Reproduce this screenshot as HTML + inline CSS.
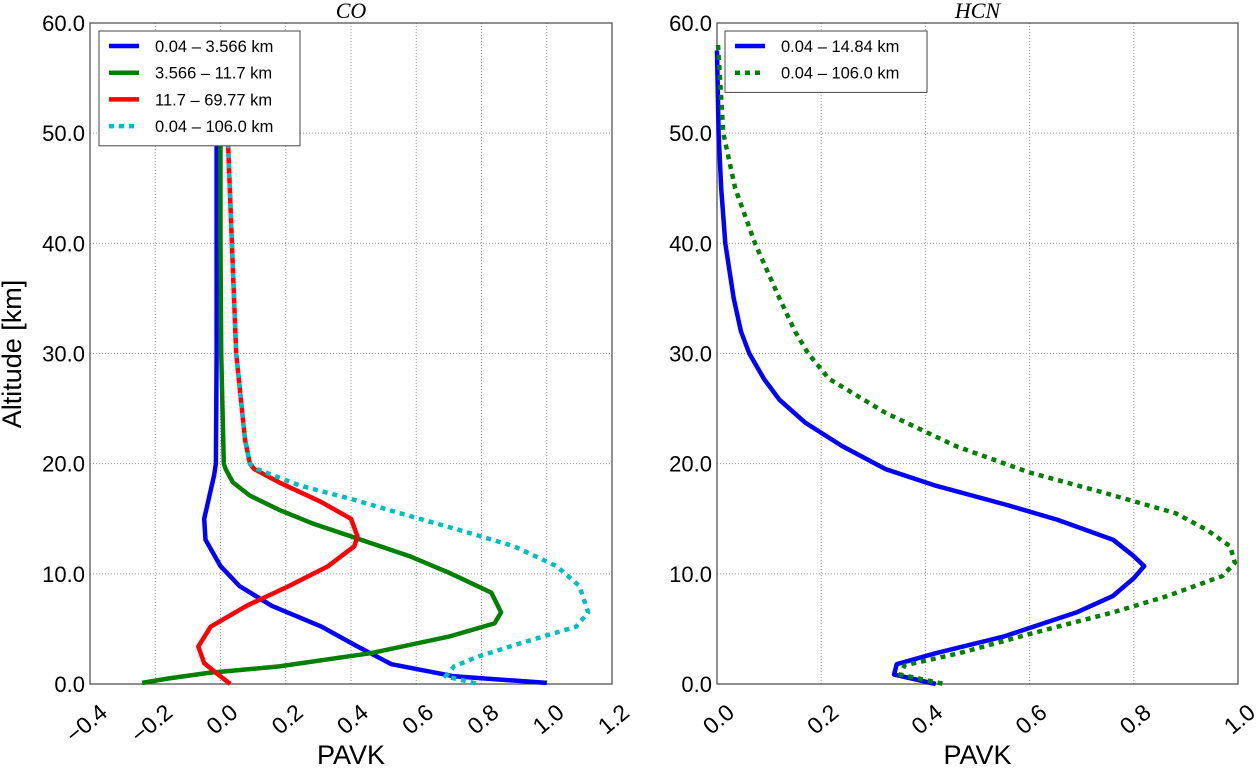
<!DOCTYPE html>
<html><head><meta charset="utf-8"><style>
html,body{margin:0;padding:0;background:#fff;}
svg{display:block;font-family:"Liberation Sans","DejaVu Sans",sans-serif;}
</style></head><body>
<svg id="chart" width="1256" height="768" viewBox="0 0 1256 768" xmlns="http://www.w3.org/2000/svg"></svg>
<script>
// ---- data ----
const altTicks = [0, 10, 20, 30, 40, 50, 60];
const coXTicks = [-0.4, -0.2, 0.0, 0.2, 0.4, 0.6, 0.8, 1.0, 1.2];
const hcnXTicks = [0.0, 0.2, 0.4, 0.6, 0.8, 1.0];
const coBlueAlt = [50,40,30,20,18.9,15,13.1,10.7,8.9,7.1,5.2,3.4,1.8,0.7,0.1];
const coBlueVal = [-0.012,-0.012,-0.012,-0.014,-0.02,-0.05,-0.046,0.0,0.058,0.157,0.31,0.42,0.524,0.716,1.0];
const coGreenAlt = [50,40,30,20,19.5,18.3,17.1,15.8,14.6,13.4,11.6,10.1,8.3,6.5,5.5,4.3,2.8,1.6,1.0,0.5,0.1];
const coGreenVal = [0.0,0.0,0.002,0.01,0.016,0.038,0.09,0.18,0.28,0.40,0.58,0.70,0.83,0.86,0.84,0.70,0.46,0.18,-0.04,-0.16,-0.24];
const coRedAlt = [50,40,30,22.2,20,19.5,18.3,16.5,15,13.4,12.5,10.7,8.9,7.1,5.2,3.4,1.9,1.0,0];
const coRedVal = [0.022,0.035,0.048,0.075,0.09,0.104,0.18,0.31,0.40,0.42,0.41,0.33,0.21,0.08,-0.03,-0.068,-0.05,-0.013,0.03];
const coCyanAlt = [50,40,30,22.2,20,19.5,18,16.8,15.5,14,12.5,10.7,8.9,6.5,5.2,3.7,2.5,1.6,0.7,0];
const coCyanVal = [0.022,0.035,0.048,0.075,0.09,0.113,0.245,0.40,0.55,0.73,0.90,1.03,1.10,1.127,1.09,0.92,0.79,0.716,0.69,0.79];
const hcnBlueAlt = [57.5,50,45,40,35,32,30,27.7,25.8,23.7,21.6,19.5,18,16.2,14.9,13.1,11.6,10.7,9.6,8,6.5,4.3,2.8,1.8,0.85,0];
const hcnBlueVal = [0.0,0.003,0.008,0.016,0.032,0.046,0.062,0.09,0.12,0.17,0.24,0.324,0.42,0.56,0.654,0.76,0.80,0.82,0.80,0.76,0.69,0.55,0.42,0.345,0.34,0.42];
const hcnGreenAlt = [58,50,45,40,35,32,30,27.7,24.6,21.6,19.2,17.4,15.5,14,12.5,11,9.8,8,6.5,4.6,2.8,1.7,0.85,0];
const hcnGreenVal = [0.002,0.012,0.035,0.073,0.12,0.15,0.175,0.215,0.324,0.458,0.60,0.74,0.88,0.94,0.985,0.994,0.97,0.865,0.76,0.605,0.465,0.36,0.352,0.436];

const NS = "http://www.w3.org/2000/svg";
const svg = document.getElementById("chart");
function mk(tag, attrs, parent){const e=document.createElementNS(NS,tag);for(const k in attrs)e.setAttribute(k,attrs[k]);(parent||svg).appendChild(e);return e;}

const Y0=684, Y1=23;
function yScale(a){return Y0+(Y1-Y0)*(a-0)/60;}

function panel(name, x0, x1, xmin, xmax, xticks, title, showYLabel){
  const g = mk("g",{});
  
  
  const xs = v => x0+(x1-x0)*(v-xmin)/(xmax-xmin);
  xticks.forEach(t=>{
    const l=mk("line",{x1:xs(t),x2:xs(t),y1:Y1,y2:Y0,stroke:"#999","stroke-width":1,"stroke-dasharray":"1,2"},g);
    
    
  });
  altTicks.forEach(t=>{
    const l=mk("line",{x1:x0,x2:x1,y1:yScale(t),y2:yScale(t),stroke:"#999","stroke-width":1,"stroke-dasharray":"1,2"},g);
    
    
  });
  xticks.forEach(t=>{
    const s = t.toFixed(1).replace("-","\u2212");
    const tx=mk("text",{x:0,y:0,"font-size":23,"text-anchor":"end",transform:`translate(${xs(t)+8},${Y0+18}) rotate(-40)`,"dominant-baseline":"hanging",fill:"#000"},g);
    tx.textContent=s;
    
    
  });
  altTicks.forEach(t=>{
    const tx=mk("text",{x:x0-5,y:yScale(t)+8,"font-size":22,"text-anchor":"end",fill:"#000"},g);
    tx.textContent=t.toFixed(1);
    
    
  });
  const fr=mk("rect",{x:x0,y:Y1,width:x1-x0,height:Y0-Y1,fill:"none",stroke:"#555","stroke-width":1.3},g);
  
  
  const ti=mk("text",{x:(x0+x1)/2,y:18,"font-size":22,"font-style":"italic","font-family":"Liberation Serif, serif","text-anchor":"middle"},g);
  ti.textContent=title;
  
  
  const xl=mk("text",{x:(x0+x1)/2,y:764,"font-size":27,"text-anchor":"middle"},g);
  xl.textContent="PAVK";
  
  
  if(showYLabel){
    const yl=mk("text",{x:0,y:0,"font-size":27,"text-anchor":"middle",transform:"translate(21,354) rotate(-90)"},g);
    yl.textContent="Altitude [km]";
    
    
  }
  return {g, xs};
}

function series(p, name, alts, vals, color, dash){
  const d = alts.map((a,i)=>(i?"L":"M")+p.xs(vals[i]).toFixed(1)+","+yScale(a).toFixed(1)).join(" ");
  const attrs={d, fill:"none", stroke:color, "stroke-width":4.5, "stroke-linejoin":"round"};
  if(dash) attrs["stroke-dasharray"]=dash;
  const e=mk("path",attrs,p.g);
  
  
}

function legend(p, name, x, y, w, entries){
  const lg=mk("g",{},p.g);
  
  
  const r=mk("rect",{x,y,width:w,height:entries.length*26.7+8,fill:"#fff",stroke:"#444","stroke-width":1},lg);
  
  
  entries.forEach((en,i)=>{
    const cy=y+15+i*26.7;
    const la={x1:x+10,x2:x+40,y1:cy,y2:cy,stroke:en[1],"stroke-width":4.5};
    if(en[2]) la["stroke-dasharray"]=en[2];
    const l=mk("line",la,lg);
    
    
    const t=mk("text",{x:x+56,y:cy+6,"font-size":16.5},lg);
    t.textContent=en[0];
    
    
  });
}

const co = panel("co", 90, 612, -0.4, 1.2, coXTicks, "CO", true);
series(co,"co-blue-line",coBlueAlt,coBlueVal,"#0000ff");
series(co,"co-green-line",coGreenAlt,coGreenVal,"#008000");
series(co,"co-red-line",coRedAlt,coRedVal,"#ff0000");
series(co,"co-cyan-line",coCyanAlt,coCyanVal,"#00bfbf","5,5");
legend(co,"co-legend",99,31,201,[["0.04 \u2013 3.566 km","#0000ff"],["3.566 \u2013 11.7 km","#008000"],["11.7 \u2013 69.77 km","#ff0000"],["0.04 \u2013 106.0 km","#00bfbf","5,5"]]);

const hcn = panel("hcn", 717, 1238, 0, 1.0, hcnXTicks, "HCN", false);
series(hcn,"hcn-blue-line",hcnBlueAlt,hcnBlueVal,"#0000ff");
series(hcn,"hcn-green-line",hcnGreenAlt,hcnGreenVal,"#008000","5,5");
legend(hcn,"hcn-legend",725,31,202,[["0.04 \u2013 14.84 km","#0000ff"],["0.04 \u2013 106.0 km","#008000","5,5"]]);
</script>
</body></html>
